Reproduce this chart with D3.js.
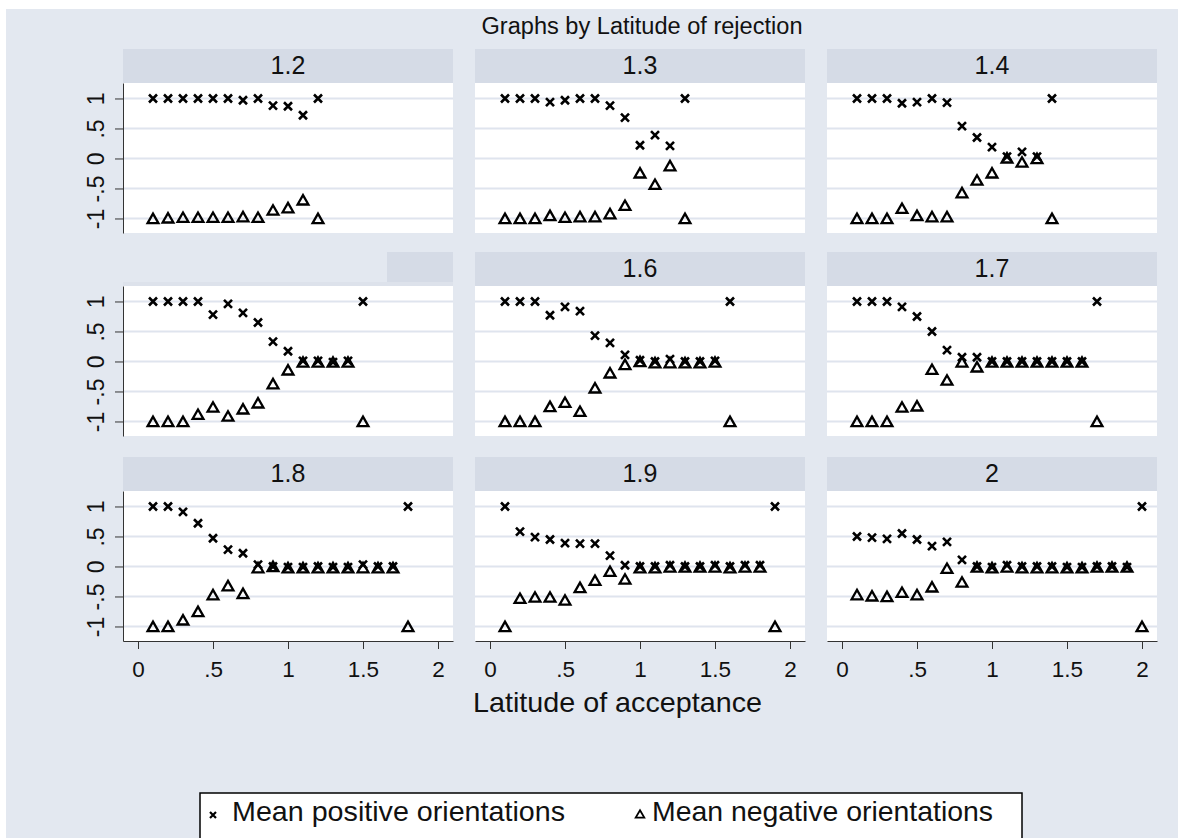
<!DOCTYPE html>
<html>
<head>
  <meta charset="utf-8">
  <title>Graphs by Latitude of rejection</title>
  <script src="https://cdn.jsdelivr.net/npm/d3@7"></script>
  <style>
    body { margin: 0; background: #fff; }
    text { font-family: "Liberation Sans", Arial, sans-serif; fill: #111; }
  </style>
</head>
<body>
<svg id="chart" width="1187" height="838"></svg>
<script>
  // panels: latitude of rejection
  const rejection = ["1.2", "1.3", "1.4", "1.5", "1.6", "1.7", "1.8", "1.9", "2"];
  const showLabel = [true, true, true, false, true, true, true, true, true];
  // latitude of acceptance (x) values
  const acceptance = [0.1, 0.2, 0.3, 0.4, 0.5, 0.6, 0.7, 0.8, 0.9, 1.0,
                      1.1, 1.2, 1.3, 1.4, 1.5, 1.6, 1.7, 1.8, 1.9, 2.0];

  // mean positive orientations, one list per panel
  const positive = [
    [1, 1, 1, 1, 1, 1, 0.97, 1, 0.88, 0.87, 0.72, 1],
    [1, 1, 1, 0.94, 0.97, 1, 1, 0.88, 0.68, 0.22, 0.39, 0.21, 1],
    [1, 1, 1, 0.92, 0.94, 1, 0.93, 0.54, 0.35, 0.19, 0.03, 0.11, 0.03, 1],
    [1, 1, 1, 1, 0.78, 0.96, 0.81, 0.65, 0.33, 0.17, 0.01, 0.01, -0.01, 0.01, 1],
    [1, 1, 1, 0.77, 0.91, 0.84, 0.43, 0.31, 0.11, 0.02, 0, 0.04, 0, 0, 0.01, 1],
    [1, 1, 1, 0.91, 0.75, 0.5, 0.19, 0.07, 0.07, 0, 0, 0, 0, 0, 0, 0, 1],
    [1, 1, 0.91, 0.72, 0.47, 0.28, 0.22, 0.03, 0, -0.01, -0.01, 0, -0.01, -0.01, 0.03, 0, 0, 1],
    [1, 0.58, 0.49, 0.45, 0.39, 0.38, 0.38, 0.18, 0.02, 0, 0, 0.02, 0, 0, 0.02, 0, 0.02, 0.02, 1],
    [0.5, 0.48, 0.46, 0.55, 0.45, 0.34, 0.41, 0.11, 0, -0.01, 0.02, 0, 0, 0, -0.01, -0.01, 0, 0, -0.01, 1]
  ];
  // mean negative orientations, one list per panel
  const negative = [
    [-1, -0.99, -0.98, -0.98, -0.98, -0.98, -0.97, -0.98, -0.86, -0.82, -0.69, -1],
    [-1, -1, -1, -0.95, -0.98, -0.97, -0.97, -0.92, -0.78, -0.24, -0.43, -0.12, -1],
    [-1, -1, -1, -0.83, -0.95, -0.97, -0.97, -0.57, -0.36, -0.24, 0.01, -0.06, 0, -1],
    [-1, -1, -1, -0.88, -0.76, -0.91, -0.79, -0.69, -0.37, -0.14, -0.01, -0.01, -0.01, -0.01, -1],
    [-1, -1, -1, -0.75, -0.68, -0.83, -0.44, -0.19, -0.05, 0, -0.02, -0.02, -0.02, -0.02, -0.01, -1],
    [-1, -1, -1, -0.76, -0.74, -0.13, -0.31, -0.01, -0.09, -0.01, -0.01, -0.01, -0.01, -0.01, -0.01, -0.01, -1],
    [-1, -1, -0.89, -0.75, -0.47, -0.32, -0.45, -0.02, 0, -0.02, -0.02, -0.02, -0.02, -0.02, -0.02, -0.02, -0.02, -1],
    [-1, -0.53, -0.51, -0.51, -0.56, -0.35, -0.23, -0.08, -0.21, -0.02, -0.02, -0.01, -0.01, -0.01, -0.01, -0.02, -0.01, -0.01, -1],
    [-0.47, -0.49, -0.5, -0.43, -0.47, -0.34, -0.03, -0.26, -0.01, -0.02, -0.01, -0.02, -0.02, -0.02, -0.02, -0.02, -0.01, -0.01, -0.01, -1]
  ];

  const yTicks = [-1, -0.5, 0, 0.5, 1];
  const xTicks = [0, 0.5, 1, 1.5, 2];
  const fmt = d => String(d).replace(/^(-?)0\./, "$1.");

  const svg = d3.select('#chart');

  // graph region
  svg.append('rect').attr('x', 6).attr('y', 9).attr('width', 1172).attr('height', 840)
    .attr('fill', '#e3e8f0');

  svg.append('text')
    .attr('x', 642).attr('y', 34)
    .attr('text-anchor', 'middle')
    .attr('font-size', 23.5)
    .attr('textLength', 321).attr('lengthAdjust', 'spacingAndGlyphs')
    .text('Graphs by Latitude of rejection');

  const colX = [123, 475, 827];
  const rowY = [49, 252, 457];
  const stripH = 34, plotW = 330, plotH = 150;

  const x = d3.scaleLinear().domain([-0.1, 2.1]).range([0, plotW]);
  const y = d3.scaleLinear().domain([-1.242, 1.258]).range([plotH, 0]);

  const crossPath = 'M-4,-4L4,4M-4,4L4,-4';
  const triPath = 'M0,-4.8L5.4,4.6L-5.4,4.6Z';

  rejection.forEach((lab, i) => {
    const col = i % 3, row = Math.floor(i / 3);
    const g = svg.append('g').attr('transform', `translate(${colX[col]},${rowY[row]})`);

    // strip header
    if (showLabel[i]) {
      g.append('rect').attr('width', plotW).attr('height', stripH).attr('fill', '#d5dbe6');
      g.append('text').attr('x', plotW / 2).attr('y', 25).attr('text-anchor', 'middle')
        .attr('font-size', 25).text(lab);
    } else {
      g.append('rect').attr('x', 264).attr('width', plotW - 264).attr('height', stripH - 4).attr('fill', '#d5dbe6');
      g.append('rect').attr('y', stripH - 4).attr('width', plotW).attr('height', 4).attr('fill', '#dde2eb');
    }

    const p = g.append('g').attr('transform', `translate(0,${stripH})`);
    p.append('rect').attr('width', plotW).attr('height', plotH).attr('fill', '#fff');

    p.selectAll('.grid').data(yTicks).join('line')
      .attr('x1', 0).attr('x2', plotW)
      .attr('y1', d => y(d)).attr('y2', d => y(d))
      .attr('stroke', '#dfe4ee').attr('stroke-width', 2);

    if (col === 0) {
      const ax = p.append('g').call(d3.axisLeft(y).tickValues(yTicks).tickFormat(fmt).tickSize(8).tickSizeOuter(0));
      ax.select('.domain').attr('stroke', '#333');
      ax.selectAll('.tick line').attr('stroke', '#333');
      ax.selectAll('.tick text')
        .attr('x', null).attr('dy', null).attr('y', null)
        .attr('text-anchor', 'middle')
        .attr('transform', 'translate(-19,0) rotate(-90)')
        .attr('font-size', 23)
        .style('font-family', '"Liberation Sans", Arial, sans-serif')
        .attr('fill', '#111');
    }
    if (row === 2) {
      const ax = p.append('g').attr('transform', `translate(0,${plotH})`)
        .call(d3.axisBottom(x).tickValues(xTicks).tickFormat(fmt).tickSize(8).tickSizeOuter(0));
      ax.select('.domain').attr('stroke', '#333');
      ax.selectAll('.tick line').attr('stroke', '#333');
      ax.selectAll('.tick text')
        .attr('dy', null).attr('y', 36)
        .attr('font-size', 22.5)
        .style('font-family', '"Liberation Sans", Arial, sans-serif')
        .attr('fill', '#111');
    }

    const pos = positive[i].map((v, k) => [acceptance[k], v]);
    const neg = negative[i].map((v, k) => [acceptance[k], v]);

    p.selectAll('.pos').data(pos).join('path').attr('class', 'pos')
      .attr('d', crossPath)
      .attr('transform', d => `translate(${x(d[0])},${y(d[1])})`)
      .attr('stroke', '#000').attr('stroke-width', 2.6).attr('fill', 'none');
    p.selectAll('.neg').data(neg).join('path').attr('class', 'neg')
      .attr('d', triPath)
      .attr('transform', d => `translate(${x(d[0])},${y(d[1])})`)
      .attr('stroke', '#000').attr('stroke-width', 2.3).attr('fill', 'none');
  });

  // x axis title
  svg.append('text')
    .attr('x', 617.5).attr('y', 712)
    .attr('text-anchor', 'middle')
    .attr('font-size', 28)
    .attr('textLength', 289).attr('lengthAdjust', 'spacingAndGlyphs')
    .text('Latitude of acceptance');

  // legend
  const leg = svg.append('g');
  leg.append('rect').attr('x', 200).attr('y', 793).attr('width', 822).attr('height', 60)
    .attr('fill', '#fff').attr('stroke', '#000').attr('stroke-width', 1.5);
  leg.append('path').attr('d', 'M-3,-3L3,3M-3,3L3,-3')
    .attr('transform', 'translate(213,815)')
    .attr('stroke', '#000').attr('stroke-width', 2.2).attr('fill', 'none');
  leg.append('text').attr('x', 232).attr('y', 821).attr('font-size', 28)
    .attr('textLength', 333).attr('lengthAdjust', 'spacingAndGlyphs')
    .text('Mean positive orientations');
  leg.append('path').attr('d', 'M0,-3.8L4.3,3.6L-4.3,3.6Z')
    .attr('transform', 'translate(640,814)')
    .attr('stroke', '#000').attr('stroke-width', 1.8).attr('fill', 'none');
  leg.append('text').attr('x', 652).attr('y', 821).attr('font-size', 28)
    .attr('textLength', 341).attr('lengthAdjust', 'spacingAndGlyphs')
    .text('Mean negative orientations');
</script>
</body>
</html>
